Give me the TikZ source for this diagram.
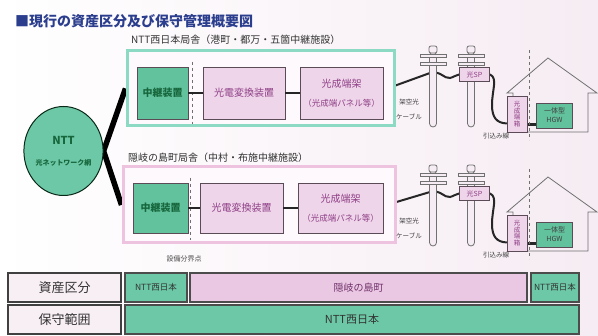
\documentclass[tikz,border=0pt]{standalone}
\usepackage{fontspec}
\setmainfont{Noto Sans CJK JP}
\usetikzlibrary{shapes.geometric,calc}
\pgfdeclarelayer{back}
\pgfdeclarelayer{wires}
\pgfsetlayers{back,wires,main}

\definecolor{titleblue}{HTML}{2B3E8E}
\definecolor{tealfill}{HTML}{62C29E}
\definecolor{tealtext}{HTML}{17663C}
\definecolor{tealframe}{HTML}{8CD9C4}
\definecolor{pinkfill}{HTML}{EFD5EA}
\definecolor{pinkframe}{HTML}{EDC3DF}
\definecolor{pinktext}{HTML}{8E3F86}
\definecolor{boxline}{HTML}{5A4B56}
\definecolor{greyline}{HTML}{707070}
\definecolor{tablegreen}{HTML}{6CC8A6}
\definecolor{tablepink}{HTML}{EAC8E3}
\definecolor{labelfill}{HTML}{F8EFF5}
\definecolor{polefill}{HTML}{F6ECF3}

\newcommand{\fsz}[1]{\fontsize{#1}{#1}\selectfont}

\begin{document}
\begin{tikzpicture}[x=1pt,y=-1pt,
  every node/.style={inner sep=0pt},
  greenbox/.style={draw=boxline, line width=0.9pt, fill=tealfill, text=tealtext,
    font=\bfseries\fsz{10}},
  pinkbox/.style={draw=boxline, line width=0.9pt, fill=pinkfill, text=pinktext,
    font=\fsz{10}},
  frame/.style={line width=3pt, fill=white!85!pinkfill},
  wire/.style={line width=2.6pt, black!85},
  cable/.style={line width=2pt, black!85, line cap=round},
  pole/.style={draw=greyline, line width=0.8pt, fill=polefill},
  house/.style={draw=greyline, line width=0.8pt},
  small/.style={font=\fsz{6.5}, text=black!75},
  rowlabel/.style={draw=black!75, line width=1.1pt, fill=labelfill,
    text=black!80, font=\fsz{13}},
  cellgreen/.style={draw=black!70, line width=1.1pt, fill=tablegreen, text=black!80},
  cellpink/.style={draw=black!70, line width=1.1pt, fill=tablepink, text=pinktext!80!black}
]
\useasboundingbox (0,0) rectangle (598,336);
\begin{pgfonlayer}{back}
  \shade[left color=white, right color=polefill] (0,0) rectangle (598,336);
\end{pgfonlayer}

% heading
\node[anchor=west, text=titleblue, font=\bfseries\fsz{14}] (title) at (15,21)
  {■現行の資産区分及び保守管理概要図};

% building captions
\node[anchor=west, font=\fsz{10}, text=black!80] (capa) at (131,40)
  {NTT西日本局舎（港町・都万・五箇中継施設）};
\node[anchor=west, font=\fsz{10}, text=black!80] (capb) at (128,158)
  {隠岐の島町局舎（中村・布施中継施設）};

% building frames
\node[frame, draw=tealframe, minimum width=267pt, minimum height=75pt] (fa) at (260.5,88.5) {};
\node[frame, draw=pinkframe, minimum width=272pt, minimum height=76pt] (fb) at (259,205) {};

% equipment, upper building
\node[greenbox, minimum width=51pt, minimum height=52pt] (rla) at (162.5,93) {中継装置};
\node[pinkbox, minimum width=82pt, minimum height=52pt] (cva) at (244,93) {光電変換装置};
\node[pinkbox, minimum width=83pt, minimum height=52pt, align=center] (tma) at (341.5,93)
  {光成端架\\[9pt]{\fsz{8.5}（光成端パネル等）}};
\draw[dashed, greyline, line width=0.7pt] (192,62) -- (192,124);
\draw[wire] (rla) -- (cva);
\draw[wire] (cva) -- (tma);

% equipment, lower building
\node[greenbox, minimum width=55pt, minimum height=50pt] (rlb) at (160.5,208) {中継装置};
\node[pinkbox, minimum width=83pt, minimum height=50pt] (cvb) at (241.5,208) {光電変換装置};
\node[pinkbox, minimum width=85pt, minimum height=50pt, align=center] (tmb) at (340.5,208)
  {光成端架\\[9pt]{\fsz{8.5}（光成端パネル等）}};
\draw[dashed, greyline, line width=0.7pt] (190,178) -- (190,240);
\draw[wire] (rlb) -- (cvb);
\draw[wire] (cvb) -- (tmb);

\node[font=\fsz{7}, text=black!70] (bpoint) at (184,259) {設備分界点};

% optical network
\node[ellipse, draw=black!60!tealtext, line width=1pt, fill=tablegreen,
  minimum width=61pt, minimum height=89pt, align=center, text=tealtext,
  font=\bfseries\fsz{11}] (net) at (63.5,151)
  {NTT\\[10pt]{\fsz{7}光ネットワーク網}};
\begin{pgfonlayer}{wires}
  \draw[line width=5.5pt, black, line join=miter] (fa.west) -- (net.east) -- (fb.west);
\end{pgfonlayer}

% outside plant and customer premises, one set per building
\foreach \sfx/\dy/\frm in {a/0/fa, b/119/fb}{
\begin{scope}[yshift=-\dy pt]
  \foreach \px in {433,471}{
    \draw[pole, rounded corners=3.5pt] (\px-3.5,52) rectangle (\px+3.5,127);
    \draw[pole, rounded corners=2pt] (\px-4,46) rectangle (\px+4,53);
    \draw[pole] (\px-13,54) rectangle (\px+13,57);
    \draw[pole] (\px-13,62) rectangle (\px+13,65);
  }
  \draw[house] (507,93) -- (548,58) -- (597,93) -- (588,93) -- (588,132)
    -- (513,132) -- (513,93) -- cycle;
  \draw[dashed, greyline, line width=0.9pt] (529,50) -- (529,140);
  \node[pinkbox, font=\fsz{7}, minimum width=30pt, minimum height=14pt] (sp\sfx) at (474.5,74.5) {光SP};
  \node[pinkbox, font=\fsz{6.5}, align=center, minimum width=20pt, minimum height=36pt]
    (bx\sfx) at (517,114) {光\\成\\端\\箱};
  \node[greenbox, font=\fsz{7}, text=black!75, align=center, minimum width=36pt,
    minimum height=25pt] (hgw\sfx) at (554.5,115.5) {一体型\\[2pt]HGW};
  \node[small, align=center] (aer\sfx) at (409,109.5) {架空光\\[8pt]ケーブル};
  \node[small] (drop\sfx) at (496,136) {引込み線};
  \coordinate (k\sfx) at ([yshift=8pt]bx\sfx.south east);
  \begin{pgfonlayer}{wires}
    \draw[cable] ([yshift=3pt]\frm.east) -- (430,73)
      .. controls (440,70) and (444,79) .. (450,78)
      .. controls (454,77) and (456,75) .. (sp\sfx.west);
    \draw[cable] (sp\sfx.east) .. controls (498,78) and (492,90) .. (492,105)
      .. controls (492,118) and (497,123) .. ([yshift=9pt]bx\sfx.south west);
    \draw[cable, line width=2.4pt] (k\sfx) -- (k\sfx -| hgw\sfx.west);
  \end{pgfonlayer}
\end{scope}}

% ownership and maintenance table
\node[rowlabel, minimum width=113pt, minimum height=29pt] (asset) at (64.5,287.5) {資産区分};
\node[cellgreen, font=\fsz{8.5}, minimum width=62pt, minimum height=29pt] (ownw1) at (156,287.5) {NTT西日本};
\node[cellpink, font=\fsz{10}, minimum width=337pt, minimum height=29pt] (owntown) at (358.5,287.5) {隠岐の島町};
\node[cellgreen, font=\fsz{8.5}, minimum width=48pt, minimum height=29pt] (ownw2) at (555,287.5) {NTT西日本};
\node[rowlabel, minimum width=113pt, minimum height=29pt] (maint) at (64.5,319.5) {保守範囲};
\node[cellgreen, font=\fsz{11}, minimum width=454pt, minimum height=29pt] (maintw) at (352,319.5) {NTT西日本};
\end{tikzpicture}
\end{document}
